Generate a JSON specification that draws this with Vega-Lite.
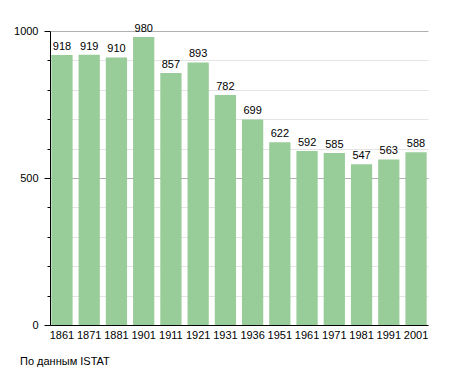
{
  "$schema": "https://vega.github.io/schema/vega-lite/v6.json",
  "width": 378,
  "height": 294,
  "autosize": {"type": "none"},
  "padding": {"left": 50, "top": 31, "right": 27, "bottom": 48},
  "background": "white",
  "config": {
    "view": {"stroke": null},
    "font": "Liberation Sans",
    "axis": {"labelFont": "Liberation Sans", "labelFontSize": 11, "labelColor": "#000"}
  },
  "title": {
    "text": "По данным ISTAT",
    "orient": "bottom",
    "anchor": "start",
    "frame": "group",
    "dx": -30,
    "offset": 16,
    "fontSize": 11,
    "fontWeight": "normal",
    "font": "Liberation Sans",
    "color": "#000"
  },
  "data": {
    "values": [
      {"year": "1861", "pop": 918},
      {"year": "1871", "pop": 919},
      {"year": "1881", "pop": 910},
      {"year": "1901", "pop": 980},
      {"year": "1911", "pop": 857},
      {"year": "1921", "pop": 893},
      {"year": "1931", "pop": 782},
      {"year": "1936", "pop": 699},
      {"year": "1951", "pop": 622},
      {"year": "1961", "pop": 592},
      {"year": "1971", "pop": 585},
      {"year": "1981", "pop": 547},
      {"year": "1991", "pop": 563},
      {"year": "2001", "pop": 588}
    ]
  },
  "encoding": {
    "x": {
      "field": "year",
      "type": "ordinal",
      "sort": null,
      "scale": {"paddingInner": 0.22, "paddingOuter": 0.05},
      "axis": {"title": null, "labelAngle": 0, "ticks": false, "domainColor": "#000", "labelPadding": 4, "grid": false}
    }
  },
  "layer": [
    {
      "mark": {"type": "bar", "opacity": 0},
      "encoding": {
        "y": {
          "field": "pop",
          "type": "quantitative",
          "scale": {"domain": [0, 1000]},
          "axis": {"title": null, "orient": "left", "values": [100, 200, 300, 400, 600, 700, 800, 900], "labels": false, "tickSize": 3, "tickColor": "#000", "grid": true, "gridColor": "#e4e4e4", "domain": false}
        }
      }
    },
    {
      "mark": {"type": "bar", "color": "#98cc98"},
      "encoding": {
        "y": {
          "field": "pop",
          "type": "quantitative",
          "scale": {"domain": [0, 1000]},
          "axis": {"title": null, "orient": "left", "values": [0, 500, 1000], "format": "d", "tickSize": 6, "tickColor": "#000", "domainColor": "#000", "grid": true, "gridColor": "#b0b0b0", "labelPadding": 6}
        }
      }
    },
    {
      "mark": {"type": "text", "baseline": "bottom", "dy": -3, "fontSize": 11, "color": "#000"},
      "encoding": {
        "y": {"field": "pop", "type": "quantitative", "axis": null},
        "text": {"field": "pop", "type": "quantitative"}
      }
    }
  ],
  "resolve": {"axis": {"y": "independent"}}
}
